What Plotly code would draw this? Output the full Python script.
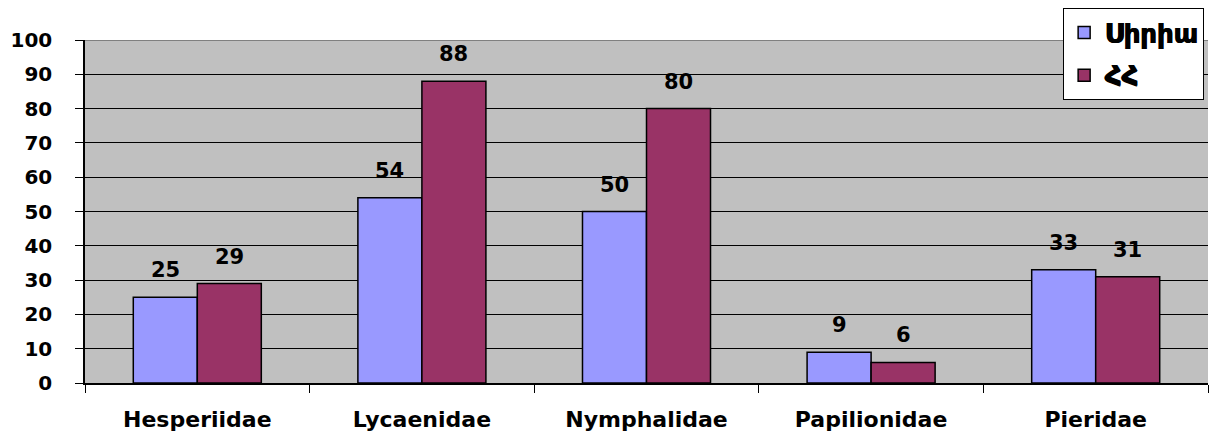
import plotly.graph_objects as go

families = ["Hesperiidae", "Lycaenidae", "Nymphalidae", "Papilionidae", "Pieridae"]
syria = [25, 54, 50, 9, 33]
armenia = [29, 88, 80, 6, 31]
series_names = ["Սիրիա", "ՀՀ"]
y_ticks = [0, 10, 20, 30, 40, 50, 60, 70, 80, 90, 100]

FONT = "DejaVu Sans"
bar_line = dict(color="black", width=1.5)
colors = ["#9999FF", "#993366"]

fig = go.Figure()
for name, vals, col in zip(series_names, [syria, armenia], colors):
    fig.add_trace(go.Bar(
        x=families, y=vals, name="<b>" + name + "</b>",
        legendgroup=name,
        marker=dict(color=col, line=bar_line),
    ))

# value labels above each bar (bar width ~64 px, so labels sit ±32 px off centre)
label_font = dict(size=21, color="black", family=FONT, weight="bold")
for vals, shift in [(syria, -32), (armenia, 32)]:
    for fam, v in zip(families, vals):
        fig.add_annotation(
            x=fam, y=v, xref="x", yref="y", text="<b>%d</b>" % v,
            showarrow=False, xanchor="center", yanchor="bottom",
            xshift=shift, yshift=13, font=label_font,
        )

# plot-area top border in grey at the highest tick
fig.add_shape(
    type="line", xref="paper", yref="y", x0=0, x1=1,
    y0=max(y_ticks), y1=max(y_ticks),
    line=dict(color="#808080", width=2),
)

fig.update_layout(
    width=1213, height=439,
    margin=dict(l=85, r=5, t=40, b=56),
    paper_bgcolor="white",
    plot_bgcolor="#C0C0C0",
    bargap=0.43, bargroupgap=0,
    font=dict(family=FONT, size=19, color="black", weight="bold"),
    legend=dict(
        x=0.871, y=1.093, xanchor="left", yanchor="top",
        bgcolor="white", bordercolor="black", borderwidth=1,
        # Armenian glyphs have no bold face here, so thicken them with a tight shadow
        font=dict(size=26, family=FONT, weight="bold",
                  shadow="1px 0px 0px black, 0.5px 0.5px 0px black"),
        itemwidth=30, tracegroupgap=6, traceorder="grouped",
    ),
    xaxis=dict(
        type="category", range=[-0.5, 4.5],
        showline=True, linecolor="black", linewidth=1.5,
        ticks="outside", tickson="boundaries", ticklen=8, tickcolor="black",
        ticklabelstandoff=16, showgrid=False,
        tickfont=dict(size=22, family=FONT, weight="bold"),
    ),
    yaxis=dict(
        range=[0, 100], tickvals=y_ticks,
        showline=True, linecolor="black", linewidth=1.5,
        ticks="outside", ticklen=8, tickcolor="black",
        ticklabelstandoff=19,
        showgrid=True, gridcolor="black", gridwidth=1,
        zeroline=False,
        tickfont=dict(size=20, family=FONT, weight="bold"),
    ),
    showlegend=True,
)

fig.write_html("out.html")
